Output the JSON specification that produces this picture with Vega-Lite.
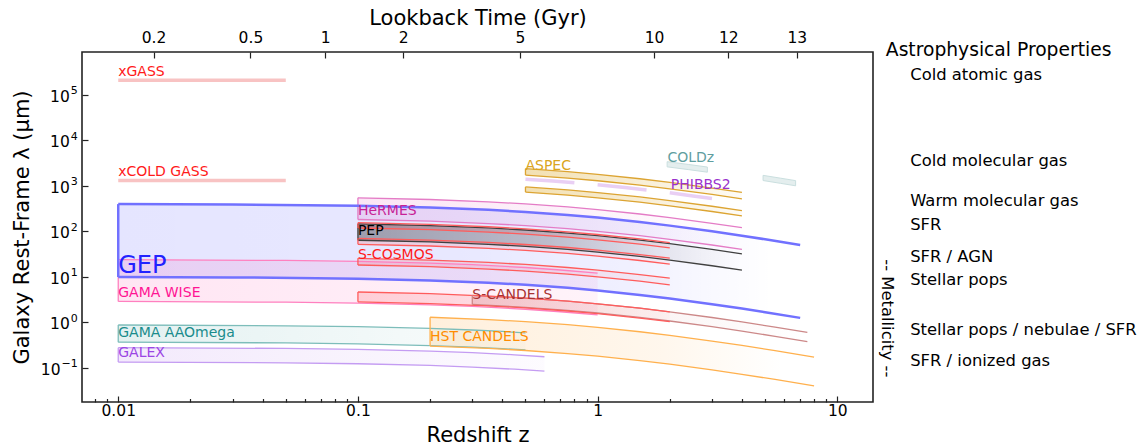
{
  "$schema": "https://vega.github.io/schema/vega-lite/v6.json",
  "width": 791,
  "height": 350,
  "autosize": {"type": "none"},
  "padding": {"left": 82, "top": 52, "right": 268, "bottom": 46},
  "background": "white",
  "config": {
    "font": "DejaVu Sans",
    "view": {"stroke": "#222", "strokeWidth": 1.6},
    "axis": {"domain": false, "grid": false, "labelColor": "#000", "titleColor": "#000", "tickColor": "#222", "tickWidth": 1.2, "titleFontWeight": "normal", "labelFontSize": 15.5, "titleFontSize": 21}
  },
  "resolve": {"scale": {"color": "independent"}, "axis": {"x": "independent", "y": "independent"}},
  "datasets": {
    "bands": [
      {"s": "GEP", "b": "GEP", "z": 0.01, "hi": 396, "lo": 9.901},
      {"s": "GEP", "b": "GEP", "z": 0.03, "hi": 388.3, "lo": 9.709},
      {"s": "GEP", "b": "GEP", "z": 0.1, "hi": 363.6, "lo": 9.091},
      {"s": "GEP", "b": "GEP", "z": 0.2, "hi": 333.3, "lo": 8.333},
      {"s": "GEP", "b": "GEP", "z": 0.35, "hi": 296.3, "lo": 7.407},
      {"s": "GEP", "b": "GEP", "z": 0.5, "hi": 266.7, "lo": 6.667},
      {"s": "GEP", "b": "GEP", "z": 0.75, "hi": 228.6, "lo": 5.714},
      {"s": "GEP", "b": "GEP", "z": 1, "hi": 200, "lo": 5},
      {"s": "GEP", "b": "GEP", "z": 1.5, "hi": 160, "lo": 4},
      {"s": "GEP", "b": "GEP", "z": 2, "hi": 133.3, "lo": 3.333},
      {"s": "GEP", "b": "GEP", "z": 3, "hi": 100, "lo": 2.5},
      {"s": "GEP", "b": "GEP", "z": 4, "hi": 80, "lo": 2},
      {"s": "GEP", "b": "GEP", "z": 5, "hi": 66.67, "lo": 1.667},
      {"s": "GEP", "b": "GEP", "z": 7, "hi": 50, "lo": 1.25},

      {"s": "GAMA WISE", "b": "GW", "z": 0.01, "hi": 23.76, "lo": 2.871},
      {"s": "GAMA WISE", "b": "GW", "z": 0.05, "hi": 22.86, "lo": 2.762},
      {"s": "GAMA WISE", "b": "GW", "z": 0.1, "hi": 21.82, "lo": 2.636},
      {"s": "GAMA WISE", "b": "GW", "z": 0.2, "hi": 20.0, "lo": 2.417},
      {"s": "GAMA WISE", "b": "GW", "z": 0.3, "hi": 18.46, "lo": 2.231},
      {"s": "GAMA WISE", "b": "GW", "z": 0.5, "hi": 16.0, "lo": 1.933},
      {"s": "GAMA WISE", "b": "GW", "z": 0.7, "hi": 14.12, "lo": 1.706},
      {"s": "GAMA WISE", "b": "GW", "z": 1, "hi": 12.0, "lo": 1.45},

      {"s": "GAMA AAOmega", "b": "GA", "z": 0.01, "hi": 0.8713, "lo": 0.3663},
      {"s": "GAMA AAOmega", "b": "GA", "z": 0.05, "hi": 0.8381, "lo": 0.3524},
      {"s": "GAMA AAOmega", "b": "GA", "z": 0.1, "hi": 0.8, "lo": 0.3364},
      {"s": "GAMA AAOmega", "b": "GA", "z": 0.2, "hi": 0.7333, "lo": 0.3083},
      {"s": "GAMA AAOmega", "b": "GA", "z": 0.3, "hi": 0.6769, "lo": 0.2846},
      {"s": "GAMA AAOmega", "b": "GA", "z": 0.4, "hi": 0.6286, "lo": 0.2643},
      {"s": "GAMA AAOmega", "b": "GA", "z": 0.5, "hi": 0.5867, "lo": 0.2467},

      {"s": "GALEX", "b": "GX", "z": 0.01, "hi": 0.2772, "lo": 0.1337},
      {"s": "GALEX", "b": "GX", "z": 0.05, "hi": 0.2667, "lo": 0.1286},
      {"s": "GALEX", "b": "GX", "z": 0.1, "hi": 0.2545, "lo": 0.1227},
      {"s": "GALEX", "b": "GX", "z": 0.2, "hi": 0.2333, "lo": 0.1125},
      {"s": "GALEX", "b": "GX", "z": 0.3, "hi": 0.2154, "lo": 0.1038},
      {"s": "GALEX", "b": "GX", "z": 0.45, "hi": 0.1931, "lo": 0.0931},
      {"s": "GALEX", "b": "GX", "z": 0.6, "hi": 0.175, "lo": 0.0844},

      {"s": "HeRMES", "b": "HR", "z": 0.1, "hi": 545.5, "lo": 181.8},
      {"s": "HeRMES", "b": "HR", "z": 0.2, "hi": 500, "lo": 166.7},
      {"s": "HeRMES", "b": "HR", "z": 0.35, "hi": 444.4, "lo": 148.1},
      {"s": "HeRMES", "b": "HR", "z": 0.5, "hi": 400, "lo": 133.3},
      {"s": "HeRMES", "b": "HR", "z": 0.75, "hi": 342.9, "lo": 114.3},
      {"s": "HeRMES", "b": "HR", "z": 1, "hi": 300, "lo": 100},
      {"s": "HeRMES", "b": "HR", "z": 1.5, "hi": 240, "lo": 80},
      {"s": "HeRMES", "b": "HR", "z": 2, "hi": 200, "lo": 66.67},
      {"s": "HeRMES", "b": "HR", "z": 3, "hi": 150, "lo": 50},
      {"s": "HeRMES", "b": "HR", "z": 4, "hi": 120, "lo": 40},

      {"s": "PEP", "b": "PEP", "z": 0.1, "hi": 145.5, "lo": 63.64},
      {"s": "PEP", "b": "PEP", "z": 0.2, "hi": 133.3, "lo": 58.33},
      {"s": "PEP", "b": "PEP", "z": 0.35, "hi": 118.5, "lo": 51.85},
      {"s": "PEP", "b": "PEP", "z": 0.5, "hi": 106.7, "lo": 46.67},
      {"s": "PEP", "b": "PEP", "z": 0.75, "hi": 91.43, "lo": 40},
      {"s": "PEP", "b": "PEP", "z": 1, "hi": 80, "lo": 35},
      {"s": "PEP", "b": "PEP", "z": 1.5, "hi": 64, "lo": 28},
      {"s": "PEP", "b": "PEP", "z": 2, "hi": 53.33, "lo": 23.33},
      {"s": "PEP", "b": "PEP", "z": 3, "hi": 40, "lo": 17.5},
      {"s": "PEP", "b": "PEP", "z": 4, "hi": 32, "lo": 14},

      {"s": "S-CANDELS", "b": "SCA", "z": 0.3, "hi": 3.923, "lo": 2.462},
      {"s": "S-CANDELS", "b": "SCA", "z": 0.5, "hi": 3.4, "lo": 2.133},
      {"s": "S-CANDELS", "b": "SCA", "z": 0.75, "hi": 2.914, "lo": 1.829},
      {"s": "S-CANDELS", "b": "SCA", "z": 1, "hi": 2.55, "lo": 1.6},
      {"s": "S-CANDELS", "b": "SCA", "z": 1.5, "hi": 2.04, "lo": 1.28},
      {"s": "S-CANDELS", "b": "SCA", "z": 2, "hi": 1.7, "lo": 1.067},
      {"s": "S-CANDELS", "b": "SCA", "z": 3, "hi": 1.275, "lo": 0.8},
      {"s": "S-CANDELS", "b": "SCA", "z": 4, "hi": 1.02, "lo": 0.64},
      {"s": "S-CANDELS", "b": "SCA", "z": 5.5, "hi": 0.7846, "lo": 0.4923},
      {"s": "S-CANDELS", "b": "SCA", "z": 7.5, "hi": 0.6, "lo": 0.3765},

      {"s": "S-COSMOS", "b": "SC1", "z": 0.1, "hi": 154.5, "lo": 118.2},
      {"s": "S-COSMOS", "b": "SC1", "z": 0.2, "hi": 141.7, "lo": 108.3},
      {"s": "S-COSMOS", "b": "SC1", "z": 0.35, "hi": 125.9, "lo": 96.3},
      {"s": "S-COSMOS", "b": "SC1", "z": 0.5, "hi": 113.3, "lo": 86.67},
      {"s": "S-COSMOS", "b": "SC1", "z": 0.75, "hi": 97.14, "lo": 74.29},
      {"s": "S-COSMOS", "b": "SC1", "z": 1, "hi": 85, "lo": 65},
      {"s": "S-COSMOS", "b": "SC1", "z": 1.5, "hi": 68, "lo": 52},
      {"s": "S-COSMOS", "b": "SC1", "z": 2, "hi": 56.67, "lo": 43.33},
      {"s": "S-COSMOS", "b": "SC2", "z": 0.1, "hi": 70, "lo": 51.82},
      {"s": "S-COSMOS", "b": "SC2", "z": 0.2, "hi": 64.17, "lo": 47.5},
      {"s": "S-COSMOS", "b": "SC2", "z": 0.35, "hi": 57.04, "lo": 42.22},
      {"s": "S-COSMOS", "b": "SC2", "z": 0.5, "hi": 51.33, "lo": 38},
      {"s": "S-COSMOS", "b": "SC2", "z": 0.75, "hi": 44, "lo": 32.57},
      {"s": "S-COSMOS", "b": "SC2", "z": 1, "hi": 38.5, "lo": 28.5},
      {"s": "S-COSMOS", "b": "SC2", "z": 1.5, "hi": 30.8, "lo": 22.8},
      {"s": "S-COSMOS", "b": "SC2", "z": 2, "hi": 25.67, "lo": 19},
      {"s": "S-COSMOS", "b": "SC3", "z": 0.1, "hi": 25.45, "lo": 18.18},
      {"s": "S-COSMOS", "b": "SC3", "z": 0.2, "hi": 23.33, "lo": 16.67},
      {"s": "S-COSMOS", "b": "SC3", "z": 0.35, "hi": 20.74, "lo": 14.81},
      {"s": "S-COSMOS", "b": "SC3", "z": 0.5, "hi": 18.67, "lo": 13.33},
      {"s": "S-COSMOS", "b": "SC3", "z": 0.75, "hi": 16, "lo": 11.43},
      {"s": "S-COSMOS", "b": "SC3", "z": 1, "hi": 14, "lo": 10},
      {"s": "S-COSMOS", "b": "SC3", "z": 1.5, "hi": 11.2, "lo": 8},
      {"s": "S-COSMOS", "b": "SC3", "z": 2, "hi": 9.333, "lo": 6.667},
      {"s": "S-COSMOS", "b": "SC4", "z": 0.1, "hi": 4.636, "lo": 2.818},
      {"s": "S-COSMOS", "b": "SC4", "z": 0.2, "hi": 4.25, "lo": 2.583},
      {"s": "S-COSMOS", "b": "SC4", "z": 0.35, "hi": 3.778, "lo": 2.296},
      {"s": "S-COSMOS", "b": "SC4", "z": 0.5, "hi": 3.4, "lo": 2.067},
      {"s": "S-COSMOS", "b": "SC4", "z": 0.75, "hi": 2.914, "lo": 1.771},
      {"s": "S-COSMOS", "b": "SC4", "z": 1, "hi": 2.55, "lo": 1.55},
      {"s": "S-COSMOS", "b": "SC4", "z": 1.5, "hi": 2.04, "lo": 1.24},
      {"s": "S-COSMOS", "b": "SC4", "z": 2, "hi": 1.7, "lo": 1.033},

      {"s": "HST CANDELS", "b": "HST", "z": 0.2, "hi": 1.2917, "lo": 0.3},
      {"s": "HST CANDELS", "b": "HST", "z": 0.35, "hi": 1.1481, "lo": 0.2667},
      {"s": "HST CANDELS", "b": "HST", "z": 0.5, "hi": 1.0333, "lo": 0.24},
      {"s": "HST CANDELS", "b": "HST", "z": 0.75, "hi": 0.8857, "lo": 0.2057},
      {"s": "HST CANDELS", "b": "HST", "z": 1, "hi": 0.775, "lo": 0.18},
      {"s": "HST CANDELS", "b": "HST", "z": 1.5, "hi": 0.62, "lo": 0.144},
      {"s": "HST CANDELS", "b": "HST", "z": 2, "hi": 0.5167, "lo": 0.12},
      {"s": "HST CANDELS", "b": "HST", "z": 3, "hi": 0.3875, "lo": 0.09},
      {"s": "HST CANDELS", "b": "HST", "z": 4, "hi": 0.31, "lo": 0.072},
      {"s": "HST CANDELS", "b": "HST", "z": 5.5, "hi": 0.2385, "lo": 0.05538},
      {"s": "HST CANDELS", "b": "HST", "z": 8, "hi": 0.1722, "lo": 0.04},

      {"s": "ASPEC", "b": "AS3", "z": 0.5, "hi": 2380, "lo": 1720},
      {"s": "ASPEC", "b": "AS3", "z": 0.75, "hi": 2040, "lo": 1474},
      {"s": "ASPEC", "b": "AS3", "z": 1, "hi": 1785, "lo": 1290},
      {"s": "ASPEC", "b": "AS3", "z": 1.5, "hi": 1428, "lo": 1032},
      {"s": "ASPEC", "b": "AS3", "z": 2, "hi": 1190, "lo": 860},
      {"s": "ASPEC", "b": "AS3", "z": 3, "hi": 892.5, "lo": 645},
      {"s": "ASPEC", "b": "AS3", "z": 4, "hi": 714, "lo": 516},
      {"s": "ASPEC", "b": "AS6", "z": 0.5, "hi": 946.7, "lo": 726.7},
      {"s": "ASPEC", "b": "AS6", "z": 0.75, "hi": 811.4, "lo": 622.9},
      {"s": "ASPEC", "b": "AS6", "z": 1, "hi": 710, "lo": 545},
      {"s": "ASPEC", "b": "AS6", "z": 1.5, "hi": 568, "lo": 436},
      {"s": "ASPEC", "b": "AS6", "z": 2, "hi": 473.3, "lo": 363.3},
      {"s": "ASPEC", "b": "AS6", "z": 3, "hi": 355, "lo": 272.5},
      {"s": "ASPEC", "b": "AS6", "z": 4, "hi": 284, "lo": 218}
    ],
    "boxes": [
      {"s": "COLDz", "b": "CZ1", "z": 1.95, "hi": 3390, "lo": 2610},
      {"s": "COLDz", "b": "CZ1", "z": 2.4, "hi": 2941, "lo": 2265},
      {"s": "COLDz", "b": "CZ1", "z": 2.87, "hi": 2584, "lo": 1990},
      {"s": "COLDz", "b": "CZ2", "z": 4.9, "hi": 1695, "lo": 1305},
      {"s": "COLDz", "b": "CZ2", "z": 5.8, "hi": 1471, "lo": 1132},
      {"s": "COLDz", "b": "CZ2", "z": 6.7, "hi": 1299, "lo": 1000}
    ],
    "thin": [
      {"s": "xGASS", "b": "XG", "z": 0.01, "lam": 210000},
      {"s": "xGASS", "b": "XG", "z": 0.05, "lam": 210000},
      {"s": "xCOLD GASS", "b": "XC", "z": 0.01, "lam": 1300},
      {"s": "xCOLD GASS", "b": "XC", "z": 0.05, "lam": 1300},
      {"s": "PHIBBS2", "b": "P1", "z": 0.5, "lam": 1400},
      {"s": "PHIBBS2", "b": "P1", "z": 0.65, "lam": 1273},
      {"s": "PHIBBS2", "b": "P1", "z": 0.8, "lam": 1167},
      {"s": "PHIBBS2", "b": "P2", "z": 1.0, "lam": 1050},
      {"s": "PHIBBS2", "b": "P2", "z": 1.3, "lam": 913},
      {"s": "PHIBBS2", "b": "P2", "z": 1.6, "lam": 807.7},
      {"s": "PHIBBS2", "b": "P3", "z": 2.0, "lam": 700},
      {"s": "PHIBBS2", "b": "P3", "z": 2.5, "lam": 600},
      {"s": "PHIBBS2", "b": "P3", "z": 3.0, "lam": 525}
    ],
    "labels": [
      {"s": "xGASS", "t": "xGASS", "z": 0.01, "lam": 255000},
      {"s": "xCOLD GASS", "t": "xCOLD GASS", "z": 0.01, "lam": 1618},
      {"s": "GAMA WISE", "t": "GAMA WISE", "z": 0.01, "lam": 3.63},
      {"s": "GAMA AAOmega", "t": "GAMA AAOmega", "z": 0.01, "lam": 0.48},
      {"s": "GALEX", "t": "GALEX", "z": 0.01, "lam": 0.1727},
      {"s": "HeRMES", "t": "HeRMES", "z": 0.1, "lam": 224.7},
      {"s": "PEP", "t": "PEP", "z": 0.1, "lam": 81.7},
      {"s": "S-COSMOS", "t": "S-COSMOS", "z": 0.1, "lam": 24.9},
      {"s": "S-CANDELS", "t": "S-CANDELS", "z": 0.3, "lam": 3.285},
      {"s": "HST CANDELS", "t": "HST CANDELS", "z": 0.2, "lam": 0.382},
      {"s": "ASPEC", "t": "ASPEC", "z": 0.5, "lam": 2191},
      {"s": "COLDz", "t": "COLDz", "z": 1.955, "lam": 3335},
      {"s": "PHIBBS2", "t": "PHIBBS2", "z": 2.02, "lam": 868}
    ],
    "gep": [{"t": "GEP", "z": 0.01, "lam": 12.12}],
    "props": [
      {"t": "Cold atomic gas", "z": 20.14, "lam": 268000},
      {"t": "Cold molecular gas", "z": 20.14, "lam": 3508},
      {"t": "Warm molecular gas", "z": 20.14, "lam": 463.6},
      {"t": "SFR", "z": 20.14, "lam": 137.5},
      {"t": "SFR / AGN", "z": 20.14, "lam": 26.8},
      {"t": "Stellar pops", "z": 20.14, "lam": 8.37},
      {"t": "Stellar pops / nebulae / SFR", "z": 20.14, "lam": 0.667},
      {"t": "SFR / ionized gas", "z": 20.14, "lam": 0.1426}
    ],
    "head": [{"t": "Astrophysical Properties", "z": 15.94, "lam": 950000}],
    "metal": [{"t": "-- Metallicity --", "z": 16.1, "lam": 1.224}]
  },
  "layer": [
    {
      "data": {"name": "bands"},
      "transform": [{"filter": "datum.s === 'GEP'"}],
      "mark": {"type": "area", "fill": {"gradient": "linear", "x1": 0, "y1": 0, "x2": 1, "y2": 0, "stops": [{"offset": 0, "color": "rgba(0,0,255,0.10)"}, {"offset": 0.5, "color": "rgba(0,0,255,0.09)"}, {"offset": 0.75, "color": "rgba(0,0,255,0.06)"}, {"offset": 0.96, "color": "rgba(0,0,255,0)"}]}},
      "encoding": {
        "x": {"field": "z", "type": "quantitative", "scale": {"type": "log", "domain": [0.00706, 14.09], "nice": false},
          "axis": {"orient": "bottom", "title": "Redshift z", "values": [0.008, 0.009, 0.01, 0.02, 0.03, 0.04, 0.05, 0.06, 0.07, 0.08, 0.09, 0.1, 0.2, 0.3, 0.4, 0.5, 0.6, 0.7, 0.8, 0.9, 1, 2, 3, 4, 5, 6, 7, 8, 9, 10],
            "labelExpr": "datum.value == 0.01 ? '0.01' : datum.value == 0.1 ? '0.1' : datum.value == 1 ? '1' : datum.value == 10 ? '10' : ''",
            "tickSize": {"condition": {"test": "datum.value == 0.01 || datum.value == 0.1 || datum.value == 1 || datum.value == 10", "value": -6}, "value": -3.5},
            "labelPadding": 7.8, "titlePadding": 3, "labelFlush": false, "labelOverlap": false}},
        "y": {"field": "hi", "type": "quantitative", "scale": {"type": "log", "domain": [0.01771, 872500], "nice": false},
          "axis": {"orient": "left", "title": "Galaxy Rest-Frame λ (μm)", "values": [1, 10, 100, 1000, 10000, 100000],
            "labelExpr": "'10'",
            "tickSize": -6, "labelPadding": 18.7, "labelOffset": 1.5, "titlePadding": 17, "labelFlush": false, "labelOverlap": false}},
        "y2": {"field": "lo"}
      }
    },
    {
      "data": {"name": "bands"},
      "transform": [{"filter": "datum.s === 'GAMA WISE'"}],
      "mark": {"type": "area", "fill": {"gradient": "linear", "x1": 0, "y1": 0, "x2": 1, "y2": 0, "stops": [{"offset": 0, "color": "rgba(255,20,147,0.11)"}, {"offset": 1, "color": "rgba(255,20,147,0.05)"}]}},
      "encoding": {
        "x": {"field": "z", "type": "quantitative", "scale": {"type": "log", "domain": [0.00706, 14.09], "nice": false}, "axis": null},
        "y": {"field": "hi", "type": "quantitative", "scale": {"type": "log", "domain": [0.01771, 872500], "nice": false},
          "axis": {"orient": "left", "title": null, "values": [0.1, 1, 10, 100, 1000, 10000, 100000],
            "labelExpr": "datum.value == 100000 ? '5' : datum.value == 10000 ? '4' : datum.value == 1000 ? '3' : datum.value == 100 ? '2' : datum.value == 10 ? '1' : datum.value == 1 ? '0' : '−1'",
            "ticks": false, "labelFontSize": 11, "labelPadding": 4.7, "labelOffset": -4, "labelFlush": false, "labelOverlap": false}},
        "y2": {"field": "lo"}
      }
    },
    {
      "data": {"name": "bands"},
      "transform": [{"filter": "datum.s === 'GAMA AAOmega'"}],
      "mark": {"type": "area", "fill": {"gradient": "linear", "x1": 0, "y1": 0, "x2": 1, "y2": 0, "stops": [{"offset": 0, "color": "rgba(0,128,128,0.11)"}, {"offset": 1, "color": "rgba(0,128,128,0.02)"}]}},
      "encoding": {
        "x": {"field": "z", "type": "quantitative", "scale": {"type": "log", "domain": [0.00706, 14.09], "nice": false}, "axis": null},
        "y": {"field": "hi", "type": "quantitative", "scale": {"type": "log", "domain": [0.01771, 872500], "nice": false},
          "axis": {"orient": "left", "title": null, "values": [0.1], "labelExpr": "'10'",
            "tickSize": -6, "labelPadding": 27.9, "labelOffset": 1.5, "labelFlush": false, "labelOverlap": false}},
        "y2": {"field": "lo"}
      }
    },
    {
      "data": {"name": "bands"},
      "transform": [{"filter": "datum.s === 'GALEX'"}],
      "mark": {"type": "area", "fill": {"gradient": "linear", "x1": 0, "y1": 0, "x2": 1, "y2": 0, "stops": [{"offset": 0, "color": "rgba(138,43,226,0.10)"}, {"offset": 1, "color": "rgba(138,43,226,0.02)"}]}},
      "encoding": {
        "x": {"field": "z", "type": "quantitative", "scale": {"type": "log", "domain": [0.00706, 14.09], "nice": false}, "axis": null},
        "y": {"field": "hi", "type": "quantitative", "scale": {"type": "log", "domain": [0.01771, 872500], "nice": false}, "axis": null},
        "y2": {"field": "lo"}
      }
    },
    {
      "data": {"name": "bands"},
      "transform": [{"filter": "datum.s === 'HeRMES'"}],
      "mark": {"type": "area", "fill": {"gradient": "linear", "x1": 0, "y1": 0, "x2": 1, "y2": 0, "stops": [{"offset": 0, "color": "rgba(220,40,170,0.12)"}, {"offset": 0.6, "color": "rgba(220,40,170,0.06)"}, {"offset": 1, "color": "rgba(220,40,170,0)"}]}},
      "encoding": {
        "x": {"field": "z", "type": "quantitative", "scale": {"type": "log", "domain": [0.00706, 14.09], "nice": false}, "axis": null},
        "y": {"field": "hi", "type": "quantitative", "scale": {"type": "log", "domain": [0.01771, 872500], "nice": false}, "axis": null},
        "y2": {"field": "lo"}
      }
    },
    {
      "data": {"name": "bands"},
      "transform": [{"filter": "datum.s === 'PEP'"}],
      "mark": {"type": "area", "fill": {"gradient": "linear", "x1": 0, "y1": 0, "x2": 1, "y2": 0, "stops": [{"offset": 0, "color": "rgba(0,0,0,0.32)"}, {"offset": 0.5, "color": "rgba(0,0,0,0.2)"}, {"offset": 0.78, "color": "rgba(0,0,0,0.07)"}, {"offset": 1, "color": "rgba(0,0,0,0)"}]}},
      "encoding": {
        "x": {"field": "z", "type": "quantitative", "scale": {"type": "log", "domain": [0.00706, 14.09], "nice": false}, "axis": null},
        "y": {"field": "hi", "type": "quantitative", "scale": {"type": "log", "domain": [0.01771, 872500], "nice": false}, "axis": null},
        "y2": {"field": "lo"}
      }
    },
    {
      "data": {"name": "bands"},
      "transform": [{"filter": "datum.s === 'S-COSMOS'"}],
      "mark": {"type": "area", "fill": {"gradient": "linear", "x1": 0, "y1": 0, "x2": 1, "y2": 0, "stops": [{"offset": 0, "color": "rgba(255,0,0,0.13)"}, {"offset": 1, "color": "rgba(255,0,0,0.03)"}]}},
      "encoding": {
        "x": {"field": "z", "type": "quantitative", "scale": {"type": "log", "domain": [0.00706, 14.09], "nice": false}, "axis": null},
        "y": {"field": "hi", "type": "quantitative", "scale": {"type": "log", "domain": [0.01771, 872500], "nice": false}, "axis": null},
        "y2": {"field": "lo"},
        "detail": {"field": "b"}
      }
    },
    {
      "data": {"name": "bands"},
      "transform": [{"filter": "datum.s === 'S-CANDELS'"}],
      "mark": {"type": "area", "fill": {"gradient": "linear", "x1": 0, "y1": 0, "x2": 1, "y2": 0, "stops": [{"offset": 0, "color": "rgba(165,42,42,0.14)"}, {"offset": 0.5, "color": "rgba(165,42,42,0.05)"}, {"offset": 1, "color": "rgba(165,42,42,0)"}]}},
      "encoding": {
        "x": {"field": "z", "type": "quantitative", "scale": {"type": "log", "domain": [0.00706, 14.09], "nice": false}, "axis": null},
        "y": {"field": "hi", "type": "quantitative", "scale": {"type": "log", "domain": [0.01771, 872500], "nice": false}, "axis": null},
        "y2": {"field": "lo"}
      }
    },
    {
      "data": {"name": "bands"},
      "transform": [{"filter": "datum.s === 'HST CANDELS'"}],
      "mark": {"type": "area", "fill": {"gradient": "linear", "x1": 0, "y1": 0, "x2": 1, "y2": 0, "stops": [{"offset": 0, "color": "rgba(255,150,20,0.15)"}, {"offset": 0.6, "color": "rgba(255,150,20,0.08)"}, {"offset": 0.92, "color": "rgba(255,150,20,0)"}]}},
      "encoding": {
        "x": {"field": "z", "type": "quantitative", "scale": {"type": "log", "domain": [0.00706, 14.09], "nice": false}, "axis": null},
        "y": {"field": "hi", "type": "quantitative", "scale": {"type": "log", "domain": [0.01771, 872500], "nice": false}, "axis": null},
        "y2": {"field": "lo"}
      }
    },
    {
      "data": {"name": "bands"},
      "transform": [{"filter": "datum.s === 'ASPEC'"}],
      "mark": {"type": "area", "fill": {"gradient": "linear", "x1": 0, "y1": 0, "x2": 1, "y2": 0, "stops": [{"offset": 0, "color": "rgba(218,165,32,0.35)"}, {"offset": 1, "color": "rgba(218,165,32,0.04)"}]}},
      "encoding": {
        "x": {"field": "z", "type": "quantitative", "scale": {"type": "log", "domain": [0.00706, 14.09], "nice": false}, "axis": null},
        "y": {"field": "hi", "type": "quantitative", "scale": {"type": "log", "domain": [0.01771, 872500], "nice": false}, "axis": null},
        "y2": {"field": "lo"},
        "detail": {"field": "b"}
      }
    },
    {
      "data": {"name": "boxes"},
      "mark": {"type": "area", "fill": "#e4eeee", "stroke": "#cadfdf", "strokeWidth": 1},
      "encoding": {
        "x": {"field": "z", "type": "quantitative", "scale": {"type": "log", "domain": [0.00706, 14.09], "nice": false}, "axis": null},
        "y": {"field": "hi", "type": "quantitative", "scale": {"type": "log", "domain": [0.01771, 872500], "nice": false}, "axis": null},
        "y2": {"field": "lo"},
        "detail": {"field": "b"}
      }
    },
    {
      "data": {"name": "thin"},
      "mark": {"type": "line", "strokeWidth": 3.5, "strokeCap": "butt"},
      "encoding": {
        "x": {"field": "z", "type": "quantitative", "scale": {"type": "log", "domain": [0.00706, 14.09], "nice": false}, "axis": null},
        "y": {"field": "lam", "type": "quantitative", "scale": {"type": "log", "domain": [0.01771, 872500], "nice": false}, "axis": null},
        "color": {"field": "s", "type": "nominal", "scale": {"domain": ["xGASS", "xCOLD GASS", "PHIBBS2"], "range": ["#f8c3c3", "#f8c3c3", "#e9cff4"]}, "legend": null},
        "detail": {"field": "b"}
      }
    },
    {
      "data": {"name": "bands"},
      "transform": [{"filter": "datum.s !== 'GEP'"}, {"fold": ["hi", "lo"], "as": ["edge", "lam"]}],
      "mark": {"type": "line", "strokeWidth": 1.3},
      "encoding": {
        "x": {"field": "z", "type": "quantitative", "scale": {"type": "log", "domain": [0.00706, 14.09], "nice": false}, "axis": null},
        "y": {"field": "lam", "type": "quantitative", "scale": {"type": "log", "domain": [0.01771, 872500], "nice": false}, "axis": null},
        "color": {"field": "s", "type": "nominal", "scale": {"domain": ["GAMA WISE", "GAMA AAOmega", "GALEX", "HeRMES", "PEP", "S-CANDELS", "S-COSMOS", "HST CANDELS", "ASPEC"], "range": ["#ff80bf", "#7dbdba", "#c49cf2", "#e47cc6", "#404040", "#cc8888", "#ff5c5c", "#ffb04d", "#dca432"]}, "legend": null},
        "detail": [{"field": "b"}, {"field": "edge"}]
      }
    },
    {
      "data": {"name": "bands"},
      "transform": [{"filter": "datum.s !== 'GEP'"}],
      "mark": {"type": "rule", "strokeWidth": 1.3},
      "encoding": {
        "x": {"aggregate": "min", "field": "z", "type": "quantitative", "scale": {"type": "log", "domain": [0.00706, 14.09], "nice": false}, "axis": null},
        "y": {"aggregate": "max", "field": "lo", "type": "quantitative", "scale": {"type": "log", "domain": [0.01771, 872500], "nice": false}, "axis": null},
        "y2": {"aggregate": "max", "field": "hi"},
        "color": {"field": "s", "type": "nominal", "scale": {"domain": ["GAMA WISE", "GAMA AAOmega", "GALEX", "HeRMES", "PEP", "S-CANDELS", "S-COSMOS", "HST CANDELS", "ASPEC"], "range": ["#ff80bf", "#7dbdba", "#c49cf2", "#e47cc6", "#404040", "#cc8888", "#ff5c5c", "#ffb04d", "#dca432"]}, "legend": null},
        "detail": {"field": "b"}
      }
    },
    {
      "data": {"name": "bands"},
      "transform": [{"filter": "datum.s === 'GEP'"}, {"fold": ["hi", "lo"], "as": ["edge", "lam"]}],
      "mark": {"type": "line", "strokeWidth": 2.5, "color": "#7171ff"},
      "encoding": {
        "x": {"field": "z", "type": "quantitative", "scale": {"type": "log", "domain": [0.00706, 14.09], "nice": false},
          "axis": {"orient": "top", "title": "Lookback Time (Gyr)", "values": [0.01404, 0.0356, 0.0731, 0.1546, 0.474, 1.72, 3.51, 6.78],
            "labelExpr": "datum.value < 0.02 ? '0.2' : datum.value < 0.05 ? '0.5' : datum.value < 0.1 ? '1' : datum.value < 0.3 ? '2' : datum.value < 1 ? '5' : datum.value < 2.5 ? '10' : datum.value < 5 ? '12' : '13'",
            "tickSize": -6, "labelPadding": 12.7, "titlePadding": 2, "labelFlush": false, "labelOverlap": false}},
        "y": {"field": "lam", "type": "quantitative", "scale": {"type": "log", "domain": [0.01771, 872500], "nice": false}, "axis": null},
        "detail": {"field": "edge"}
      }
    },
    {
      "data": {"name": "bands"},
      "transform": [{"filter": "datum.s === 'GEP'"}],
      "mark": {"type": "rule", "strokeWidth": 2.5, "color": "#7171ff"},
      "encoding": {
        "x": {"aggregate": "min", "field": "z", "type": "quantitative", "scale": {"type": "log", "domain": [0.00706, 14.09], "nice": false}, "axis": null},
        "y": {"aggregate": "max", "field": "lo", "type": "quantitative", "scale": {"type": "log", "domain": [0.01771, 872500], "nice": false}, "axis": null},
        "y2": {"aggregate": "max", "field": "hi"}
      }
    },
    {
      "data": {"name": "labels"},
      "mark": {"type": "text", "align": "left", "baseline": "alphabetic", "fontSize": 14},
      "encoding": {
        "x": {"field": "z", "type": "quantitative", "scale": {"type": "log", "domain": [0.00706, 14.09], "nice": false}, "axis": null},
        "y": {"field": "lam", "type": "quantitative", "scale": {"type": "log", "domain": [0.01771, 872500], "nice": false}, "axis": null},
        "text": {"field": "t"},
        "color": {"field": "s", "type": "nominal", "scale": {"domain": ["xGASS", "xCOLD GASS", "GAMA WISE", "GAMA AAOmega", "GALEX", "HeRMES", "PEP", "S-COSMOS", "S-CANDELS", "HST CANDELS", "ASPEC", "COLDz", "PHIBBS2"], "range": ["#ff1a1a", "#ff1a1a", "#ff1493", "#1a8c8c", "#9b45e4", "#c71f96", "#000000", "#ff1a1a", "#a83232", "#ff8c00", "#daa520", "#5f9ea0", "#9932cc"]}, "legend": null}
      }
    },
    {
      "data": {"name": "gep"},
      "mark": {"type": "text", "align": "left", "baseline": "alphabetic", "fontSize": 24, "color": "#2222ff"},
      "encoding": {
        "x": {"field": "z", "type": "quantitative", "scale": {"type": "log", "domain": [0.00706, 14.09], "nice": false}, "axis": null},
        "y": {"field": "lam", "type": "quantitative", "scale": {"type": "log", "domain": [0.01771, 872500], "nice": false}, "axis": null},
        "text": {"field": "t"}
      }
    },
    {
      "data": {"name": "props"},
      "mark": {"type": "text", "align": "left", "baseline": "middle", "fontSize": 16.4, "color": "#000"},
      "encoding": {
        "x": {"field": "z", "type": "quantitative", "scale": {"type": "log", "domain": [0.00706, 14.09], "nice": false}, "axis": null},
        "y": {"field": "lam", "type": "quantitative", "scale": {"type": "log", "domain": [0.01771, 872500], "nice": false}, "axis": null},
        "text": {"field": "t"}
      }
    },
    {
      "data": {"name": "head"},
      "mark": {"type": "text", "align": "left", "baseline": "middle", "fontSize": 18.7, "color": "#000"},
      "encoding": {
        "x": {"field": "z", "type": "quantitative", "scale": {"type": "log", "domain": [0.00706, 14.09], "nice": false}, "axis": null},
        "y": {"field": "lam", "type": "quantitative", "scale": {"type": "log", "domain": [0.01771, 872500], "nice": false}, "axis": null},
        "text": {"field": "t"}
      }
    },
    {
      "data": {"name": "metal"},
      "mark": {"type": "text", "align": "center", "baseline": "middle", "fontSize": 16.4, "angle": 90, "color": "#000"},
      "encoding": {
        "x": {"field": "z", "type": "quantitative", "scale": {"type": "log", "domain": [0.00706, 14.09], "nice": false}, "axis": null},
        "y": {"field": "lam", "type": "quantitative", "scale": {"type": "log", "domain": [0.01771, 872500], "nice": false}, "axis": null},
        "text": {"field": "t"}
      }
    }
  ]
}
